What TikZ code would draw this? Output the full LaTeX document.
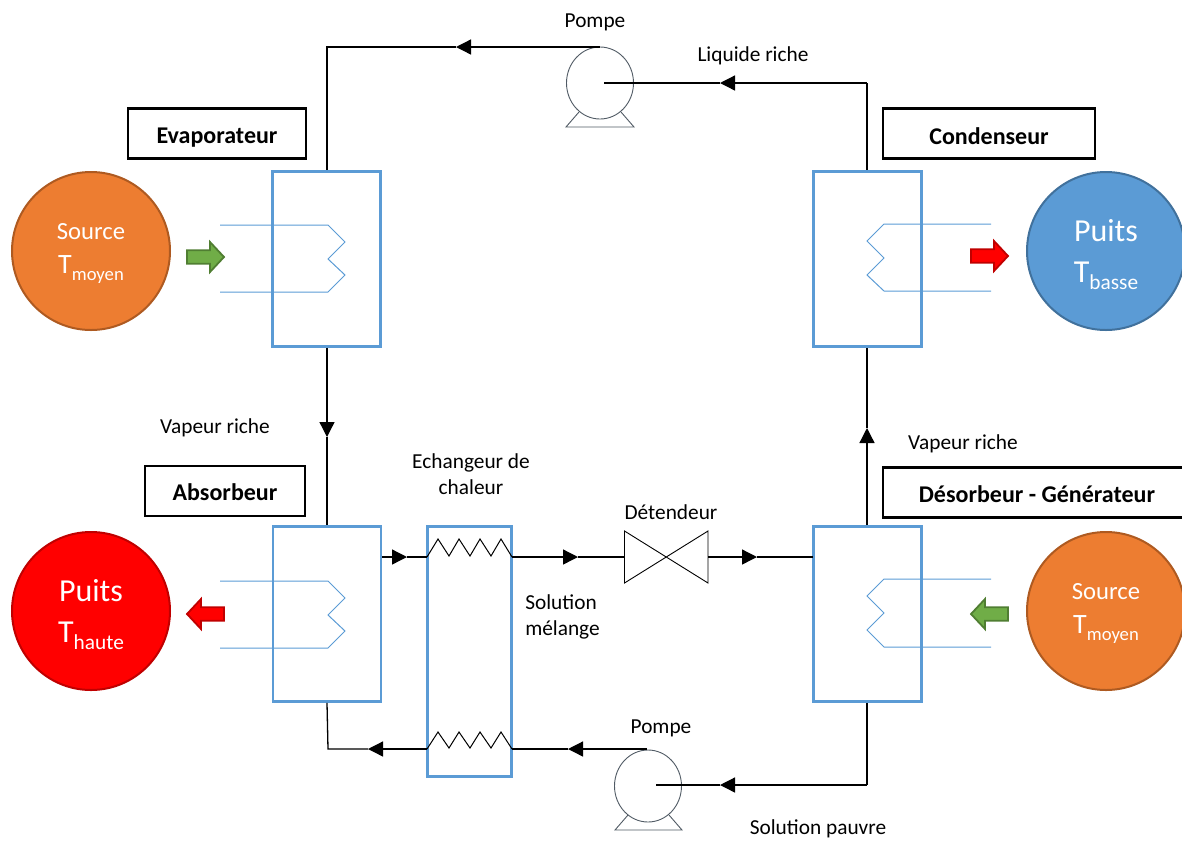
\documentclass[tikz,border=0pt]{standalone}
\usepackage{fontspec}
\setmainfont{Carlito}
\usetikzlibrary{arrows.meta,shapes.geometric}
\definecolor{hxblue}{HTML}{5B9BD5}
\definecolor{puitsblueb}{HTML}{41719C}
\definecolor{orangef}{HTML}{ED7D31}
\definecolor{orangeb}{HTML}{AE5A21}
\definecolor{greenf}{HTML}{70AD47}
\definecolor{greenb}{HTML}{507E32}
\definecolor{redb}{HTML}{C00000}
\definecolor{pumpc}{HTML}{505A64}
\newcommand{\px}{0.75pt}
\newcommand{\lowsub}[2]{{\fontsize{#1}{20}\selectfont\raisebox{-5.25pt}{#2}}}
\tikzset{
 x=0.75pt,y=-0.75pt,
 hx/.style={draw=hxblue,line width=2.6*\px,minimum width=108*\px,minimum height=175*\px,inner sep=0,fill=none},
 hxtall/.style={draw=hxblue,line width=2.6*\px,minimum width=84*\px,minimum height=250*\px,inner sep=0},
 coil/.style={draw=hxblue,line width=1*\px},
 tagbox/.style={draw=black,line width=2.4*\px,inner sep=0,minimum height=50*\px},
 tagtext/.style={font=\fontsize{18}{20}\selectfont\bfseries,inner sep=0},
 disc/.style={circle,line width=2*\px,minimum size=158*\px,inner sep=0},
 pipe/.style={draw=black,line width=1.3*\px},
 tipped/.style={pipe,-{Triangle[length=15*\px,width=15*\px]}},
 zig/.style={draw=black,line width=1*\px,line join=miter},
 lab/.style={font=\fontsize{16}{19.5}\selectfont,align=center,inner sep=0},
 pump/.style={ellipse,draw=pumpc,line width=0.9*\px,minimum width=67*\px,minimum height=72*\px,inner sep=0},
 pumpbase/.style={draw=pumpc,line width=0.9*\px},
 heat/.style={line width=1.8*\px,line join=miter},
 heatR/.pic={\path[pic actions] (-18.5,-6.7) -- (4.5,-6.7) -- (4.5,-15) -- (18.5,0) -- (4.5,15) -- (4.5,6.7) -- (-18.5,6.7) -- cycle;},
 heatL/.pic={\path[pic actions] (18.5,-6.7) -- (-4.5,-6.7) -- (-4.5,-15) -- (-18.5,0) -- (-4.5,15) -- (-4.5,6.7) -- (18.5,6.7) -- cycle;},
}
\begin{document}
\begin{tikzpicture}
\useasboundingbox (0,0) rectangle (1182,840);
\clip (0,0) rectangle (1182,840);

% heat exchangers
\node[hx] (evap) at (326.5,259) {};
\node[hx] (cond) at (867.5,259) {};
\node[hx] (abs) at (327,614) {};
\node[hx] (des) at (867.5,614) {};
\node[hxtall] (ech) at (469.5,651.5) {};

% tag boxes
\node[tagbox,minimum width=178*\px] (tagE) at (217,133.5) {};
\node[tagtext] (tagEt) at (217,138) {Evaporateur};
\node[tagbox,minimum width=212*\px] (tagC) at (989,133.5) {};
\node[tagtext] (tagCt) at (989,136) {Condenseur};
\node[tagbox,minimum width=160*\px] (tagA) at (225,491) {};
\node[tagtext] (tagAt) at (225,492) {Absorbeur};
\node[tagbox,minimum width=320*\px] (tagD) at (1043,492.5) {};
\node[tagtext] (tagDt) at (1037,494) {Désorbeur - Générateur};

% discs
\node[disc,fill=orangef,draw=orangeb] (srcL) at (91,251) {};
\node[disc,fill=hxblue,draw=puitsblueb] (puitsR) at (1106,251) {};
\node[disc,fill=red,draw=redb] (puitsL) at (91,611) {};
\node[disc,fill=orangef,draw=orangeb] (srcR) at (1106,611) {};
\node[lab,text=white,font=\fontsize{18.5}{20}\selectfont] (s1) at (91,232) {Source};
\node[lab,text=white,anchor=base,font=\fontsize{21}{20}\selectfont] (s1t) at (91,273) {T\lowsub{14}{moyen}};
\node[lab,text=white,font=\fontsize{18.5}{20}\selectfont] (s2) at (1106,592) {Source};
\node[lab,text=white,anchor=base,font=\fontsize{21}{20}\selectfont] (s2t) at (1106,633) {T\lowsub{14}{moyen}};
\node[lab,text=white,font=\fontsize{24}{24}\selectfont] (p1) at (1106,231) {Puits};
\node[lab,text=white,anchor=base,font=\fontsize{24}{24}\selectfont] (p1t) at (1106,282) {T\lowsub{16}{basse}};
\node[lab,text=white,font=\fontsize{24}{24}\selectfont] (p2) at (91,591) {Puits};
\node[lab,text=white,anchor=base,font=\fontsize{24}{24}\selectfont] (p2t) at (91,642) {T\lowsub{16}{haute}};

% coils
\draw[coil] (220,225) -- (328,225) -- (345,242) -- (328,259) -- (345,275) -- (328,292) -- (220,292);
\draw[coil] (220,581) -- (328,581) -- (345,598) -- (328,615) -- (345,631) -- (328,648) -- (220,648);
\draw[coil] (991,224) -- (884,224) -- (867,241) -- (884,258) -- (867,275) -- (884,291) -- (991,291);
\draw[coil] (991,579) -- (884,579) -- (867,596) -- (884,613) -- (867,630) -- (884,647) -- (991,647);

% heat arrows
\pic[heat,fill=greenf,draw=greenb] at (205.5,257) {heatR};
\pic[heat,fill=red,draw=redb] at (989.5,256) {heatR};
\pic[heat,fill=red,draw=redb] at (205.5,614) {heatL};
\pic[heat,fill=greenf,draw=greenb] at (989.5,614) {heatL};

% pumps
\node[pump] (pumpT) at (600,83) {};
\coordinate (pumpTb1) at (579,112);
\coordinate (pumpTb2) at (566,127);
\coordinate (pumpTb3) at (634,127);
\coordinate (pumpTb4) at (621,112);
\draw[pumpbase] (pumpTb1) -- (pumpTb2) -- (pumpTb3) -- (pumpTb4);
\node[pump] (pumpB) at (648,786) {};
\coordinate (pumpBb1) at (628,815);
\coordinate (pumpBb2) at (615,830);
\coordinate (pumpBb3) at (682,830);
\coordinate (pumpBb4) at (669,815);
\draw[pumpbase] (pumpBb1) -- (pumpBb2) -- (pumpBb3) -- (pumpBb4);

% valve
\coordinate (vA) at (624.5,531);
\coordinate (vB) at (624.5,583);
\coordinate (vC) at (708,531);
\coordinate (vD) at (708,583);
\draw[pumpbase,draw=black,line join=miter] (vA) -- (vD) -- (vC) -- (vB) -- cycle;

% pipes: top
\coordinate (tc) at (327,47);
\coordinate (pumpTtop) at (600,47);
\coordinate (a1) at (456,47);
\draw[tipped] (pumpTtop) -- (a1);
\draw[pipe] (a1) -- (tc) -- (evap.north -| tc);
\coordinate (pumpTin) at (604,83);
\coordinate (tr) at (867,83);
\coordinate (a2) at (720,83);
\draw[tipped] (tr) -- (a2);
\draw[pipe] (a2) -- (pumpTin);
\draw[pipe] (tr) -- (cond.north -| tr);
% evap -> abs
\coordinate (a3) at (327,437);
\draw[tipped] (evap.south -| a3) -- (a3);
\draw[pipe] (a3) -- (abs.north -| a3);
% des -> cond
\coordinate (a4) at (867,428);
\draw[tipped] (des.north -| a4) -- (a4);
\draw[pipe] (a4) -- (cond.south -| a4);
% abs -> ech -> valve -> des
\coordinate (a5) at (407,557);
\coordinate (absout) at (382,557);
\coordinate (echin) at (427,557);
\coordinate (echout) at (512,557);
\draw[tipped] (absout) -- (a5);
\draw[pipe] (a5) -- (echin);
\coordinate (a6) at (578,557);
\draw[tipped] (echout) -- (a6);
\coordinate (vL) at (624.5,557);
\coordinate (vR) at (708,557);
\draw[pipe] (a6) -- (vL);
\coordinate (a7) at (757,557);
\coordinate (desin) at (813,557);
\draw[tipped] (vR) -- (a7);
\draw[pipe] (a7) -- (desin);
% bottom
\coordinate (pumpBtop) at (647,749);
\coordinate (a8) at (568,749);
\coordinate (echo2) at (512,749);
\coordinate (echi2) at (427,749);
\coordinate (a9) at (368,749);
\coordinate (bl) at (328,749);
\draw[tipped] (pumpBtop) -- (a8);
\draw[pipe] (a8) -- (echo2);
\draw[tipped] (echi2) -- (a9);
\draw[pipe] (a9) -- (bl) -- (abs.south -| tc);
\coordinate (pumpBin) at (656,785);
\coordinate (br) at (867,785);
\coordinate (a10) at (720,785);
\draw[tipped] (br) -- (a10);
\draw[pipe] (a10) -- (pumpBin);
\draw[pipe] (br) -- (des.south -| br);

% zigzags
\draw[zig] (echin) -- (438,539) -- (449,556) -- (459,539) -- (470,556) -- (480,539) -- (491,556) -- (501,539) -- (echout);
\draw[zig] (echi2) -- (438,732) -- (449,748) -- (459,732) -- (470,748) -- (480,732) -- (491,748) -- (501,732) -- (echo2);

% labels
\node[lab] (l1) at (595,22) {Pompe};
\node[lab] (l2) at (753,56) {Liquide riche};
\node[lab] (l3) at (215,428) {Vapeur riche};
\node[lab] (l4) at (963,444) {Vapeur riche};
\node[lab] (l5) at (471,474) {Echangeur de\\chaleur};
\node[lab] (l6) at (671,512) {Détendeur};
\node[lab,align=left,anchor=west] (l7) at (525,617) {Solution\\mélange};
\node[lab] (l8) at (661,728) {Pompe};
\node[lab] (l9) at (818,829) {Solution pauvre};
\end{tikzpicture}
\end{document}
